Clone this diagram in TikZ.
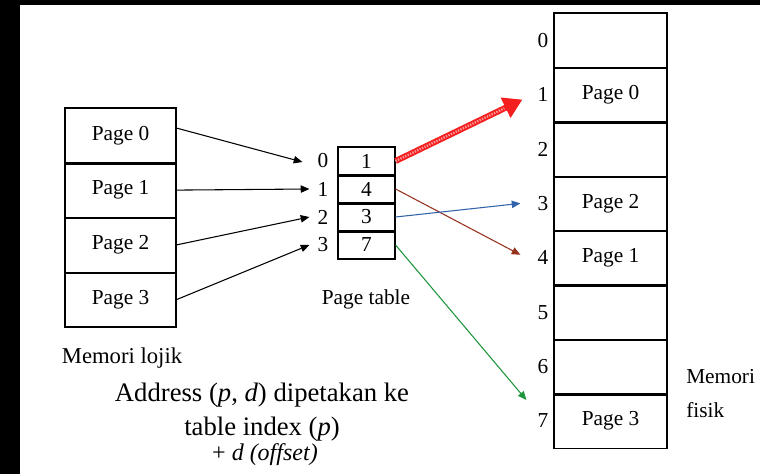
\documentclass[tikz,border=0pt]{standalone}
\usepackage{fontspec}
\setmainfont{Liberation Serif}
\usetikzlibrary{arrows.meta,calc}

\definecolor{arrowred}{RGB}{245,30,30}
\definecolor{arrowbrown}{RGB}{150,50,30}
\definecolor{arrowblue}{RGB}{50,100,170}
\definecolor{arrowgreen}{RGB}{30,150,60}

\begin{document}
\begin{tikzpicture}[x=0.75pt,y=-0.75pt,
  cell/.style={draw, line width=0.9pt, inner sep=0, font=\fontsize{16}{18}\selectfont},
  lcell/.style={cell, minimum width=83.25pt, minimum height=41pt},
  tcell/.style={cell, minimum width=42.75pt, minimum height=21pt},
  pcell/.style={cell, minimum width=84.75pt, minimum height=40.8pt},
  idx/.style={inner sep=0, font=\fontsize{16}{18}\selectfont},
  lbl/.style={inner sep=0, font=\fontsize{16}{18}\selectfont},
  big/.style={inner sep=0, font=\fontsize{20}{22}\selectfont},
  divider/.style={line width=1.8pt},
  thinarrow/.style={line width=0.8pt, -{Triangle[length=6.5pt,width=5.5pt]}},
]
\useasboundingbox (0,0) rectangle (760,474);
% frame
\fill[black] (0,0) rectangle (760,474);
\fill[white] (20,5) rectangle (760,474);

% logical memory
\node[lcell] (L0) at (120.5,135.4) {Page 0};
\node[lcell] (L1) at (120.5,190.1) {Page 1};
\node[lcell] (L2) at (120.5,244.9) {Page 2};
\node[lcell] (L3) at (120.5,299.6) {Page 3};
\foreach \a in {L0,L1,L2}
  \draw[divider] (\a.south west) -- (\a.south east);
\node[lbl, font=\fontsize{17}{19}\selectfont] (ML) at (122,358) {Memori lojik};

% page table
\node[tcell] (T0) at (366.5,161) {1};
\node[tcell] (T1) at (366.5,189) {4};
\node[tcell] (T2) at (366.5,217) {3};
\node[tcell] (T3) at (366.5,245) {7};
\foreach \a in {T0,T1,T2}
  \draw[divider] (\a.south west) -- (\a.south east);
\foreach \i/\y in {0/161,1/189,2/217,3/245}
  \node[idx] (I\i) at (323,\y) {\i};
\node[lbl] (PT) at (366,299) {Page table};

% physical memory
\foreach \i/\t in {0/,1/Page 0,2/,3/Page 2,4/Page 1,5/,6/,7/Page 3}{
  \node[pcell] (F\i) at (610.5,{40.2+54.4*\i}) {\t};
  \node[idx] (P\i) at (543,{40.2+54.4*\i}) {\i};
}
\foreach \a in {F0,F1,F2,F3,F4,F5,F6}
  \draw[divider] (\a.south west) -- (\a.south east);
\node[lbl, anchor=west] (MF1) at (686,377) {Memori};
\node[lbl, anchor=west] (MF2) at (686,410) {fisik};

% logical pages to page table entries
\draw[thinarrow] ([yshift=5.5pt]L0.east) -- ($(I0.west)+(-15,1)$);
\draw[thinarrow] (L1.east) -- ($(I1.west)+(-8,0)$);
\draw[thinarrow] (L2.east) -- ($(I2.west)+(-8,0)$);
\draw[thinarrow] (L3.east) -- ($(I3.west)+(-8,0)$);

% page table entries to frames
\coordinate (R1) at ($(P1.west)+(-15,5)$);
\draw[arrowred, line width=4.5pt, -{Triangle[length=14pt,width=16pt]}] (T0.east) -- (R1);
\draw[white!55!arrowred, line width=1.8pt, dash pattern=on 1pt off 1pt, shorten >=15pt] (T0.east) -- (R1);
\draw[thinarrow, arrowbrown] (T1.east) -- ($(P4.west)+(-17,-3)$);
\draw[thinarrow, arrowblue] (T2.east) -- ($(P3.west)+(-17,0)$);
\draw[thinarrow, arrowgreen] (T3.east) -- ($(P7.west)+(-11,-21)$);

% caption
\node[big] (A1) at (262,395) {Address (\textit{p}, \textit{d}) dipetakan ke};
\node[big] (A2) at (262,429) {table index (\textit{p})};
\node[big, font=\fontsize{18}{20}\selectfont] (A3) at (265,455) {+ \textit{d (offset)}};
\end{tikzpicture}
\end{document}
